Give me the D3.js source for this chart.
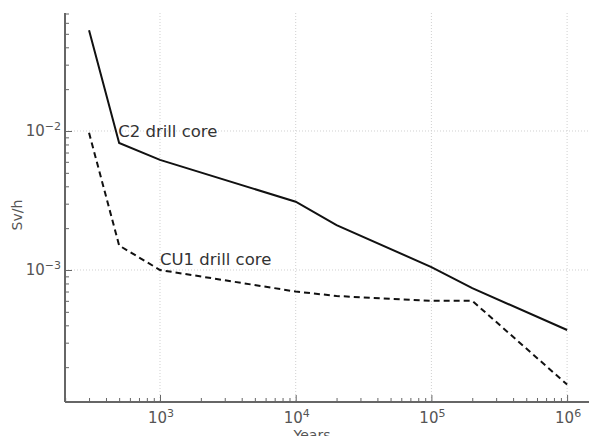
<!DOCTYPE html>
<html>
<head>
<meta charset="utf-8">
<script src="https://cdn.jsdelivr.net/npm/d3@7"></script>
<style>
  body { margin: 0; background: #fff; }
  svg { font-family: "DejaVu Sans", sans-serif; }
</style>
</head>
<body>
<svg id="chart" width="589" height="436"></svg>
<script>
// years after closure
var years = [300, 500, 1000, 10000, 20000, 100000, 200000, 1000000];
// dose rate, Sv/h
var c2Values = [0.053, 0.0082, 0.0062, 0.0031, 0.0021, 0.00105, 0.00074, 0.00037];
var cu1Years = [300, 500, 1000, 10000, 20000, 100000, 200000, 1000000];
var cu1Values = [0.0097, 0.0015, 0.001, 0.0007, 0.00065, 0.0006, 0.0006, 0.00015];
var xMajor = [1e3, 1e4, 1e5, 1e6];
var yMajor = [1e-3, 1e-2];

var svg = d3.select("#chart");
var plotLeft = 65, plotRight = 589, plotTop = 13, plotBottom = 402;

var x = d3.scaleLog().domain([199.5, 1.45e6]).range([plotLeft, plotRight]);
var y = d3.scaleLog().domain([1.123e-4, 0.0706]).range([plotBottom, plotTop]);

// grid
svg.append("g").selectAll("line").data(xMajor).enter().append("line")
    .attr("x1", function (d) { return x(d); }).attr("x2", function (d) { return x(d); })
    .attr("y1", plotTop).attr("y2", plotBottom)
    .attr("stroke", "#d0d0d0").attr("stroke-width", 1).attr("stroke-dasharray", "1,2");
svg.append("g").selectAll("line").data(yMajor).enter().append("line")
    .attr("x1", plotLeft).attr("x2", plotRight)
    .attr("y1", function (d) { return y(d); }).attr("y2", function (d) { return y(d); })
    .attr("stroke", "#d0d0d0").attr("stroke-width", 1).attr("stroke-dasharray", "1,2");

// minor tick values
function minors(lo, hi) {
    var out = [];
    for (var e = Math.floor(Math.log10(lo)); e <= Math.ceil(Math.log10(hi)); e++) {
        for (var m = 1; m < 10; m++) {
            var v = m * Math.pow(10, e);
            if (v >= lo && v <= hi) out.push(v);
        }
    }
    return out;
}

// x axis, ticks inward
var xAxis = d3.axisTop(x).tickValues(minors(199.5, 1.45e6)).tickSize(4).tickFormat("");
var gx = svg.append("g").attr("transform", "translate(0," + plotBottom + ")").call(xAxis);
gx.selectAll(".tick line").attr("stroke", "#666").attr("y2", function (d) {
    return xMajor.indexOf(d) >= 0 ? -7 : -4;
});
gx.select(".domain").attr("stroke", "#666").attr("stroke-width", 2).attr("d", "M" + plotLeft + ",0H" + plotRight);

// y axis
var yAxis = d3.axisRight(y).tickValues(minors(1.123e-4, 0.0706)).tickSize(4).tickFormat("");
var gy = svg.append("g").attr("transform", "translate(" + plotLeft + ",0)").call(yAxis);
gy.selectAll(".tick line").attr("stroke", "#666").attr("x2", function (d) {
    return yMajor.indexOf(d) >= 0 ? 7 : 4;
});
gy.select(".domain").attr("stroke", "#666").attr("stroke-width", 2).attr("d", "M0," + plotTop + "V" + plotBottom);

// tick labels
function expLabel(sel, e) {
    sel.append("tspan").text("10");
    sel.append("tspan").attr("dy", -6).attr("font-size", 11).text(e);
}
xMajor.forEach(function (d) {
    var t = svg.append("text").attr("x", x(d) + 1).attr("y", 423)
        .attr("text-anchor", "middle").attr("font-size", 15).attr("fill", "#555");
    expLabel(t, String(Math.round(Math.log10(d))));
});
yMajor.forEach(function (d) {
    var t = svg.append("text").attr("x", 61).attr("y", y(d) + 5)
        .attr("text-anchor", "end").attr("font-size", 15).attr("fill", "#555");
    expLabel(t, "\u2212" + String(Math.round(-Math.log10(d))));
});

// axis titles (x title sits partly below the frame, as in the source)
svg.append("text").attr("x", 312).attr("y", 440).attr("text-anchor", "middle")
    .attr("font-size", 14).attr("fill", "#555").text("Years");
svg.append("text").attr("transform", "translate(22,215) rotate(-90)").attr("text-anchor", "middle")
    .attr("font-size", 14).attr("fill", "#555").text("Sv/h");

// lines
var line = d3.line().x(function (d) { return x(d[0]); }).y(function (d) { return y(d[1]); });
svg.append("path").datum(d3.zip(years, c2Values)).attr("d", line)
    .attr("fill", "none").attr("stroke", "#111").attr("stroke-width", 2);
svg.append("path").datum(d3.zip(cu1Years, cu1Values)).attr("d", line)
    .attr("fill", "none").attr("stroke", "#111").attr("stroke-width", 2).attr("stroke-dasharray", "6,4");

// annotations
svg.append("text").attr("x", x(500) - 1).attr("y", y(0.0082) - 6)
    .attr("font-size", 16.5).attr("fill", "#333").text("C2 drill core");
svg.append("text").attr("x", x(1000)).attr("y", y(0.001) - 5)
    .attr("font-size", 16.5).attr("fill", "#333").text("CU1 drill core");
</script>
</body>
</html>
